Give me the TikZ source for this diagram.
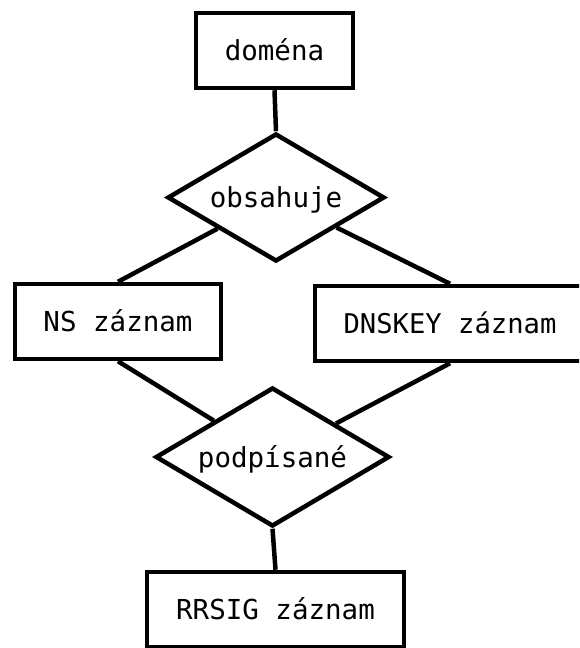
\documentclass[tikz,border=0pt]{standalone}
\usepackage{fontspec}
\newfontfamily\monof{DejaVu Sans Mono}
\usetikzlibrary{shapes.geometric}
\begin{document}
\begin{tikzpicture}[x=1pt,y=-1pt,
  every node/.style={font=\monof\fontsize{27.5}{30}\selectfont, text height=20pt, text depth=0pt, inner sep=0pt},
  ent/.style={draw, line width=4.5pt, rectangle, minimum width=#1, minimum height=75pt},
  rel/.style 2 args={draw, line width=4.5pt, diamond, aspect=1.7, minimum width=#1, minimum height=#2},
  conn/.style={line width=4.5pt}]
\useasboundingbox (0,0) rectangle (579,648);
\clip (0,0) rectangle (579,648);
\node[ent=157pt] (dom) at (274.5,50.5) {doména};
\node[rel={217pt}{128pt}] (obs) at (276,197.5) {obsahuje};
\node[ent=206pt] (ns) at (118,321.5) {NS záznam};
\node[ent=270pt, font=\monof\fontsize{27.2}{30}\selectfont] (dns) at (450,323.5) {DNSKEY záznam};
\node[rel={234pt}{139pt}] (pod) at (272.5,457) {podpísané};
\node[ent=257pt] (rr) at (275.5,609.5) {RRSIG záznam};
\draw[conn] (dom.south) -- (obs.north);
\draw[conn] (obs) -- (ns.north);
\draw[conn] (obs) -- (dns.north);
\draw[conn] (ns.south) -- (pod);
\draw[conn] (dns.south) -- (pod);
\draw[conn] (pod.south) -- (rr.north);
\end{tikzpicture}
\end{document}
